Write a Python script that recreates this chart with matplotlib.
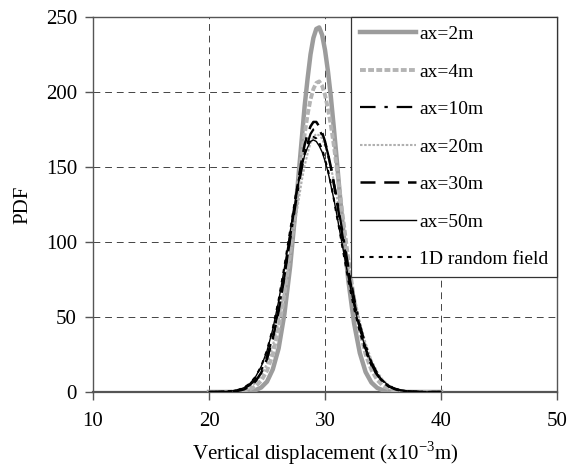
import numpy as np
import matplotlib.pyplot as plt

plt.rcParams['font.family'] = ['Liberation Serif', 'DejaVu Serif']

# Vertical displacement (x10^-3 m) sample points
x = [20, 21, 22, 22.5, 23, 23.5, 24, 24.5, 25, 25.5, 26, 26.5, 27, 27.5, 27.75,
     28, 28.25, 28.5, 28.75, 29, 29.25, 29.5, 29.75, 30, 30.25, 30.5, 30.75,
     31, 31.25, 31.5, 32, 32.5, 33, 33.5, 34, 34.5, 35, 35.5, 36, 36.5,
     37, 38, 39, 40]

# PDF values
pdf_2m = [0, 0, 0, 0, 0.1, 0.4, 1.2, 3.0, 6.9, 15.1, 29, 52, 84, 125, 147,
          169, 191, 209, 225, 236, 242, 243, 238, 228, 214, 197, 177,
          156, 134, 113, 75, 46, 26, 13.3, 6.3, 2.7, 1.1, 0.4, 0.1, 0,
          0, 0, 0, 0]
pdf_4m = [0, 0, 0.1, 0.3, 0.7, 1.7, 3.7, 7.4, 14.2, 25, 42, 65, 93, 126, 142,
          158, 172, 185, 195, 202, 206, 207, 204, 198, 189, 178, 165,
          150, 135, 119, 89, 62, 41, 25, 14.7, 8.0, 4.1, 2.0, 0.9, 0.4,
          0.1, 0, 0, 0]
pdf_10m = [0, 0.1, 0.5, 1.1, 2.3, 4.5, 8.2, 14.3, 23.8, 37, 55, 77, 102, 127, 139,
           149, 159, 166, 172, 175, 176, 175, 171, 166, 159, 150, 140,
           130, 118, 107, 84, 63, 45, 31, 19.9, 12.5, 7.3, 4.1, 2.2, 1.1,
           0.6, 0.1, 0, 0]
pdf_20m = [0, 0, 0.3, 0.7, 1.5, 3.1, 6.1, 11.1, 18.9, 30.8, 47, 68, 92, 117, 129,
           141, 151, 159, 166, 170, 172, 171, 169, 164, 158, 150, 141,
           131, 120, 109, 86, 65, 47, 32.5, 21.3, 13.3, 7.9, 4.5, 2.5, 1.3,
           0.6, 0.1, 0, 0]
pdf_30m = [0, 0.05, 0.3, 0.8, 1.7, 3.6, 7.0, 12.8, 22, 35.6, 54, 77, 104, 131, 143,
           155, 165, 172, 177, 180, 180, 177, 173, 167, 159, 150, 139,
           128, 116, 104, 81, 60, 43, 28.9, 18.6, 11.4, 6.7, 3.7, 2.0, 1.0,
           0.5, 0.1, 0, 0]
pdf_50m = [0, 0.1, 0.7, 1.4, 2.8, 5.4, 9.9, 17.0, 27.4, 41.9, 60.5, 82.7, 107, 130, 141,
           150, 158, 163, 167, 168, 167, 164, 160, 154, 147, 138, 129,
           119, 108, 97.6, 76.9, 58, 41.9, 28.9, 19.2, 12.2, 7.4, 4.3, 2.4, 1.3,
           0.7, 0.15, 0, 0]
pdf_1d = [0, 0.1, 0.7, 1.4, 2.8, 5.5, 10.0, 17.2, 27.7, 42.4, 61.2, 83.7, 108, 132, 142,
          152, 159, 165, 169, 170, 169, 166, 162, 155, 148, 139, 129,
          118, 108, 96.5, 75, 56, 40, 27.2, 17.6, 11.0, 6.5, 3.7, 2.0, 1.0,
          0.5, 0.1, 0, 0]

fig = plt.figure(figsize=(5.76, 4.70), dpi=100)
ax = fig.add_axes([0.1615, 0.166, 0.8055, 0.798])

ax.plot(x, pdf_2m, color='#9c9c9c', lw=3.2, label='ax=2m', zorder=3)
ax.plot(x, pdf_4m, color='#b4b4b4', lw=2.8, ls=(0, (1.5, 0.6)), label='ax=4m', zorder=3)
ax.plot(x, pdf_10m, color='black', lw=1.6, ls=(0, (7, 4, 1.5, 4)), label='ax=10m', zorder=4)
ax.plot(x, pdf_20m, color='#b0b0b0', lw=1.5, ls=(0, (1.2, 0.8)), label='ax=20m', zorder=3)
ax.plot(x, pdf_30m, color='black', lw=1.8, ls=(0, (6, 3.5)), label='ax=30m', zorder=4)
ax.plot(x, pdf_50m, color='black', lw=1.0, label='ax=50m', zorder=4)
ax.plot(x, pdf_1d, color='black', lw=1.5, ls=(0, (2, 2.5)), label='1D random field', zorder=4)

ax.set_xlim(10, 50)
ax.set_ylim(0, 250)
ax.set_xticks([10, 20, 30, 40, 50])
ax.set_yticks([0, 50, 100, 150, 200, 250])
ax.grid(True, color='#444444', ls=(0, (7, 5)), lw=0.7)
ax.set_axisbelow(True)

for s in ax.spines.values():
    s.set_color('#555555')
    s.set_linewidth(1.0)
ax.spines['bottom'].set_linewidth(1.6)

ax.tick_params(axis='both', direction='out', length=5.5, width=1, color='#555555',
               labelsize=15, pad=6)
ax.tick_params(axis='x', pad=9)

ax.set_xlabel('Vertical displacement (x10$^{\\mathregular{-3}}$m)', fontsize=15, labelpad=6)
ax.set_ylabel('PDF', fontsize=15, labelpad=10)

leg = ax.legend(loc='upper right', fontsize=14, frameon=True, fancybox=False,
                edgecolor='#333333', framealpha=1, borderaxespad=0,
                handlelength=2.9, handletextpad=0.15, labelspacing=1.02,
                borderpad=0.45)
leg.get_frame().set_linewidth(0.9)

fig.savefig('out.png', dpi=100)
